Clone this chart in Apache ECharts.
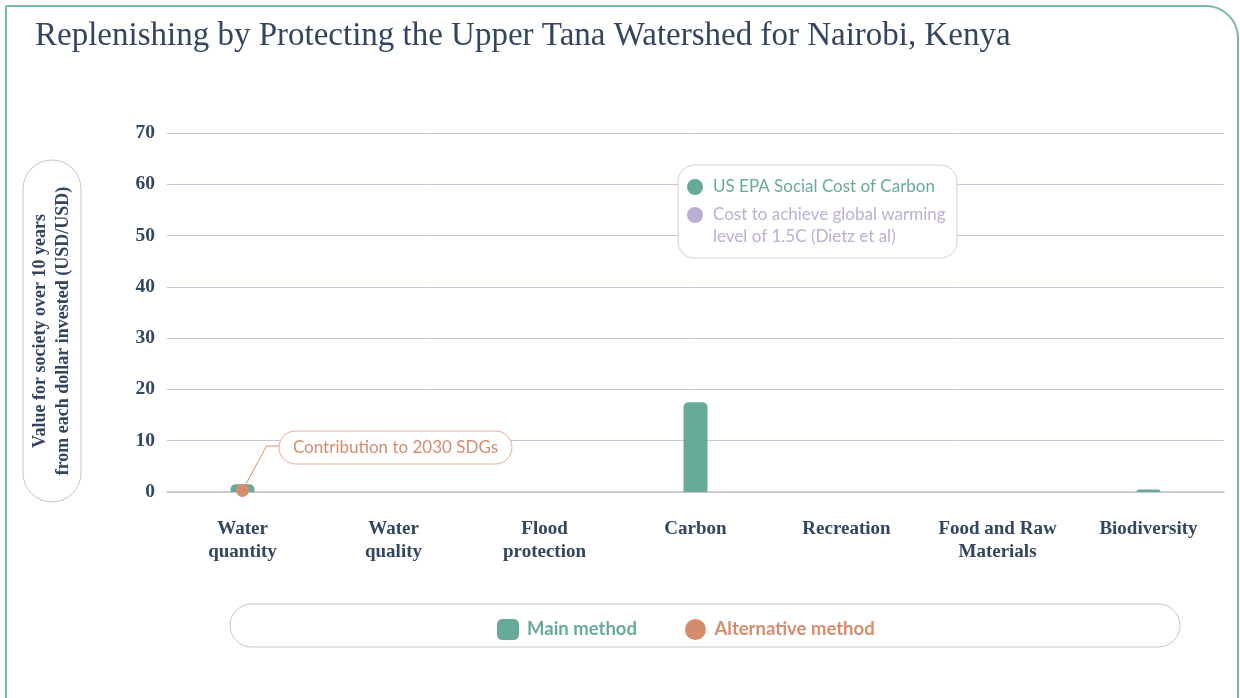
<!DOCTYPE html>
<html><head><meta charset="utf-8">
<script src="https://cdn.jsdelivr.net/npm/echarts@6/dist/echarts.min.js"></script>
<style>html,body{margin:0;padding:0;background:#fff}#c{width:1240px;height:698px}</style>
</head><body><div id="c"></div>
<script>
const categories = ['Water\nquantity','Water\nquality','Flood\nprotection','Carbon','Recreation','Food and Raw\nMaterials','Biodiversity'];
const mainMethod = [1.5, 0, 0, 17.5, 0, 0, 0.5];
const altMethod = [0.3, null, null, null, null, null, null];
const yTicks = [0, 10, 20, 30, 40, 50, 60, 70];
const TEAL = '#68aa9a', ORANGE = '#d58c6d', NAVY = '#33455f', PURPLE = '#bcaed2';
const serif = '"Liberation Serif", "DejaVu Serif", serif';
const sans = 'Lato, "Noto Sans", sans-serif';

const chart = echarts.init(document.getElementById('c'), null, {renderer: 'canvas'});
const option = {
  animation: false,
  title: {text: 'Replenishing by Protecting the Upper Tana Watershed for Nairobi, Kenya', left: 30, top: 15,
    textStyle: {fontFamily: serif, fontWeight: 'normal', fontSize: 33, color: NAVY}},
  grid: {left: 167, right: 16, top: 133, bottom: 206},
  legend: {
    top: 614, left: 492, itemGap: 48, itemWidth: 22, itemHeight: 21,
    selectedMode: false,
    data: [
      {name: 'Main method', icon: 'roundRect', textStyle: {color: TEAL}},
      {name: 'Alternative method', icon: 'circle', textStyle: {color: ORANGE}}
    ],
    textStyle: {fontFamily: sans, fontWeight: 'bold', fontSize: 18.5, padding: [0, 0, 0, 3]}
  },
  xAxis: {type: 'category', data: categories,
    axisLine: {lineStyle: {color: '#c4c4cc', width: 1.5}}, axisTick: {show: false},
    axisLabel: {interval: 0, fontFamily: serif, fontWeight: 'bold', fontSize: 19, color: NAVY, margin: 26, lineHeight: 23}},
  yAxis: {type: 'value', min: 0, max: 70, interval: 10,
    axisLine: {show: false}, axisTick: {show: false},
    splitLine: {lineStyle: {color: '#c8c6d6', width: 1}},
    axisLabel: {fontFamily: serif, fontWeight: 'bold', fontSize: 19.5, color: NAVY, margin: 12}},
  series: [
    {name: 'Main method', type: 'bar', data: mainMethod, barWidth: 24,
      itemStyle: {color: TEAL, borderRadius: [5, 5, 0, 0]}},
    {name: 'Alternative method', type: 'scatter', data: altMethod, symbolSize: 13,
      itemStyle: {color: ORANGE, opacity: 1}, z: 5}
  ],
  graphic: [
    {id: 'frame', type: 'rect', shape: {x: 6, y: 6, width: 1232, height: 720, r: [0, 32, 0, 0]}, silent: true,
      style: {fill: 'none', stroke: '#78b9a8', lineWidth: 2}, z: -10},
    {id: 'ybox', type: 'rect', shape: {x: 23, y: 160, width: 58, height: 342, r: 29},
      style: {fill: '#fff', stroke: '#c4c4cc', lineWidth: 1}},
    {id: 'ytext', type: 'text', x: 52, y: 331, rotation: Math.PI / 2,
      style: {text: 'Value for society over 10 years\nfrom each dollar invested (USD/USD)', align: 'center', verticalAlign: 'middle',
        font: 'bold 18px ' + serif, fill: NAVY, lineHeight: 23}},
    {id: 'legbox', type: 'rect', shape: {x: 230, y: 604, width: 950, height: 43, r: 21.5},
      style: {fill: 'none', stroke: '#c4c4cc', lineWidth: 1}, z: -1},
    {id: 'notebox', type: 'rect', shape: {x: 678, y: 165, width: 279, height: 93, r: 16},
      style: {fill: '#fff', stroke: '#d0d0d6', lineWidth: 1}, z: 10},
    {id: 'c1', type: 'circle', shape: {cx: 695, cy: 187, r: 8}, style: {fill: TEAL}, z: 11},
    {id: 't1', type: 'text', x: 713, y: 187, style: {text: 'US EPA Social Cost of Carbon', font: '17px ' + sans, fill: TEAL, verticalAlign: 'middle'}, z: 11},
    {id: 'c2', type: 'circle', shape: {cx: 695, cy: 215, r: 8}, style: {fill: PURPLE}, z: 11},
    {id: 't2', type: 'text', x: 713, y: 204, style: {text: 'Cost to achieve global warming\nlevel of 1.5C (Dietz et al)', font: '17px ' + sans, fill: PURPLE, verticalAlign: 'top', lineHeight: 22}, z: 11},
    {id: 'sdgBox', type: 'rect', shape: {x: 279, y: 431, width: 233, height: 33, r: 16.5},
      style: {fill: '#fff', stroke: '#e2ac97', lineWidth: 1}, z: 10},
    {id: 'sdgText', type: 'text', x: 395.5, y: 448, style: {text: 'Contribution to 2030 SDGs', font: '17px ' + sans, fill: ORANGE, align: 'center', verticalAlign: 'middle'}, z: 11}
  ]
};
chart.setOption(option);
const p = chart.convertToPixel({seriesIndex: 1}, [0, altMethod[0]]);
chart.setOption({graphic: [{id: 'connector', type: 'polyline', shape: {points: [p, [p[0] + 24, 446], [279, 446]]},
  style: {stroke: ORANGE, lineWidth: 1, fill: 'none'}, z: 4}]});
</script></body></html>
